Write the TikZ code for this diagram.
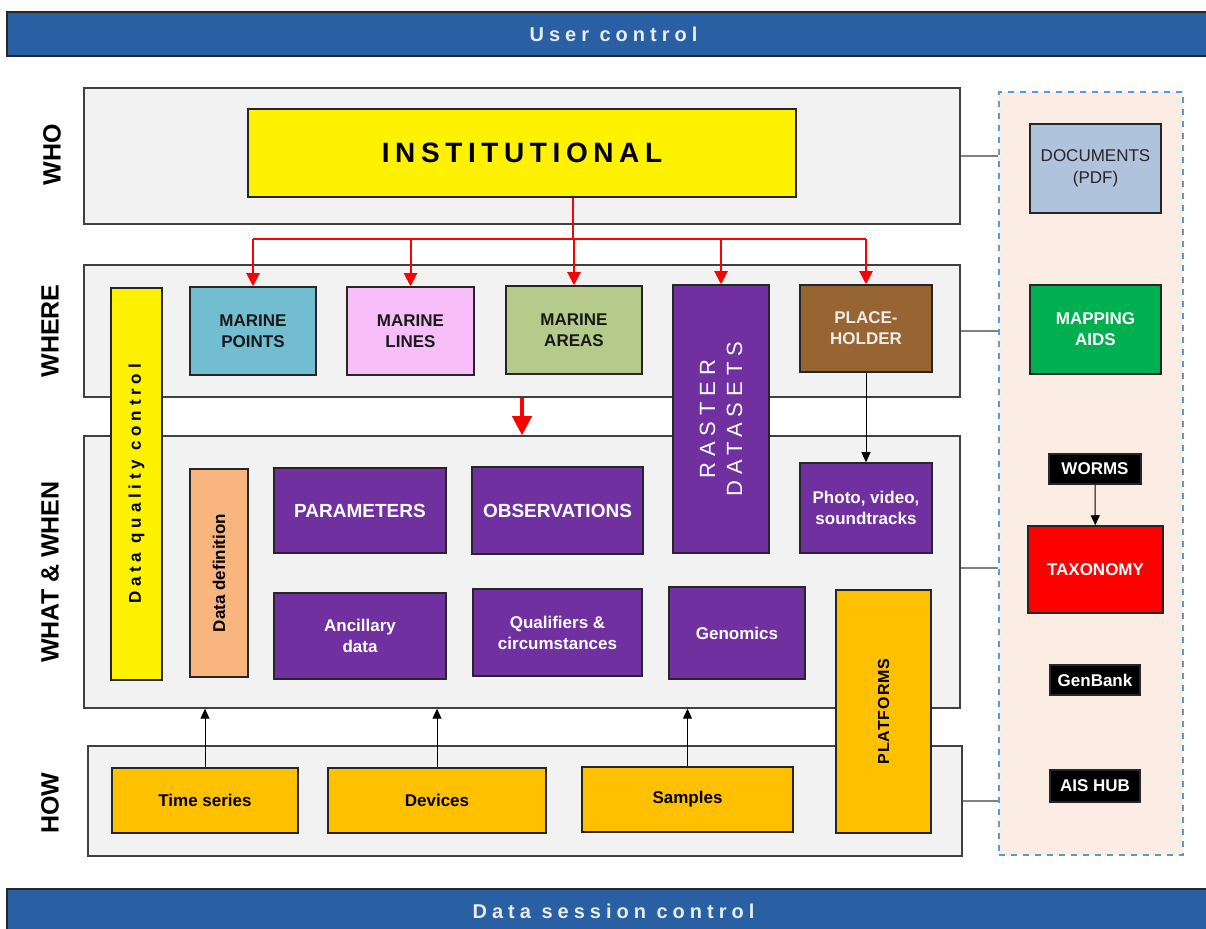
\documentclass[tikz,border=0pt]{standalone}
\usepackage{fontspec}
\setmainfont{Liberation Sans}
\usetikzlibrary{positioning, arrows.meta}
\definecolor{barblue}{RGB}{41, 96, 164}
\definecolor{bartext}{RGB}{232, 236, 244}
\definecolor{panelfill}{RGB}{242, 242, 242}
\definecolor{panelline}{RGB}{64, 64, 64}
\definecolor{boxline}{RGB}{38, 38, 38}
\definecolor{linkgrey}{RGB}{128, 128, 128}
\definecolor{pointblue}{RGB}{114, 190, 208}
\definecolor{linepink}{RGB}{248, 190, 250}
\definecolor{areagreen}{RGB}{182, 202, 139}
\definecolor{rasterpurple}{RGB}{112, 48, 160}
\definecolor{holderbrown}{RGB}{151, 101, 50}
\definecolor{deforange}{RGB}{248, 182, 126}
\definecolor{gold}{RGB}{255, 192, 0}
\definecolor{extfill}{RGB}{252, 237, 228}
\definecolor{extline}{RGB}{91, 155, 213}
\definecolor{docblue}{RGB}{176, 195, 220}
\definecolor{mapgreen}{RGB}{0, 176, 80}
\newcommand{\spaced}[2]{{\addfontfeatures{LetterSpace=#1}#2}}

\begin{document}
\begin{tikzpicture}[x=0.5pt, y=-0.5pt, thick,
  dims/.style 2 args={minimum width=#1*0.5pt, minimum height=#2*0.5pt},
  bar/.style={draw=boxline, fill=barblue, text=bartext, line width=0.75pt, font=\bfseries\fontsize{10}{12}\selectfont},
  panel/.style={draw=panelline, fill=panelfill, line width=0.75pt},
  box/.style={draw=boxline, line width=0.75pt, align=center, inner sep=0pt, font=\bfseries\fontsize{8.5}{10.5}\selectfont},
  purplebox/.style={box, fill=rasterpurple, text=white},
  blackbox/.style={box, fill=black, text=white},
  layer/.style={rotate=90, font=\bfseries\fontsize{12.5}{15}\selectfont},
  link/.style={draw=linkgrey, line width=1pt},
  redarrow/.style={draw=red, line width=1pt, -{Triangle[length=6.5pt, width=6.5pt]}},
  bigred/.style={draw=red, line width=2pt, -{Triangle[length=9.5pt, width=9.5pt]}},
  blackarrow/.style={draw=black, line width=0.5pt, -{Triangle[length=5pt, width=4.5pt]}}]
  \useasboundingbox (0,0) rectangle (1206,929);

  % bars
  \node [bar, dims={1213}{44}] (user) at (613.5,34) {\spaced{25}{User control}};
  \node [bar, dims={1213}{44}] (session) at (613.5,911) {\spaced{25}{Data session control}};

  % layer panels
  \node [panel, dims={876}{136}] (who) at (522,156) {};
  \node [panel, dims={876}{132}] (where) at (522,331) {};
  \node [panel, dims={876}{272}] (ww) at (522,572) {};
  \node [panel, dims={874}{110}] (how) at (525,801) {};
  \node [layer] (wholbl) at (52,155) {WHO};
  \node [layer] (wherelbl) at (50,331) {WHERE};
  \node [layer] (wwlbl) at (50,572) {WHAT \& WHEN};
  \node [layer] (howlbl) at (50,803) {HOW};

  % who
  \node [box, fill=yellow, dims={548}{88}, font=\bfseries\fontsize{14}{16}\selectfont] (inst) at (522,153) {\spaced{20}{INSTITUTIONAL}};

  % where
  \node [box, fill=pointblue, text=black!90, dims={126}{88}] (mpoints) at (253,331) {MARINE\\POINTS};
  \node [box, fill=linepink, text=black!90, dims={127}{88}] (mlines) at (410.5,331) {MARINE\\LINES};
  \node [box, fill=areagreen, text=black!90, dims={136}{88}] (mareas) at (574,330) {MARINE\\AREAS};
  \node [box, fill=holderbrown, text=white!92!black, dims={132}{87}] (holder) at (866,328.5) {PLACE-\\HOLDER};

  % what and when
  \node [box, fill=deforange, dims={208}{58}, rotate=90] (ddef) at (219,573) {Data definition};
  \node [purplebox, dims={172}{85}, font=\bfseries\fontsize{9.5}{11}\selectfont] (params) at (360,510.5) {PARAMETERS};
  \node [purplebox, dims={171}{87}, font=\bfseries\fontsize{9.5}{11}\selectfont] (obs) at (557.5,510.5) {OBSERVATIONS};
  \node [purplebox, dims={132}{90}] (photo) at (866,508) {Photo, video,\\soundtracks};
  \node [purplebox, dims={172}{86}] (ancillary) at (360,636) {Ancillary\\data};
  \node [purplebox, dims={169}{87}] (qualifiers) at (557.5,632.5) {Qualifiers \&\\circumstances};
  \node [purplebox, dims={136}{92}] (genomics) at (737,633) {Genomics};

  % how
  \node [box, fill=gold, dims={186}{65}] (tseries) at (205,800.5) {Time series};
  \node [box, fill=gold, dims={218}{65}] (devices) at (437,800.5) {Devices};
  \node [box, fill=gold, dims={211}{65}] (samples) at (687.5,799.5) {Samples};

  % boxes across layers
  \node [box, fill=yellow, rotate=90, dims={392}{51}] (dqc) at (136.5,484) {\spaced{28}{Data quality control}};
  \node [purplebox, rotate=90, dims={268}{96}, font=\fontsize{11}{13.5}\selectfont] (raster) at (721,419) {\spaced{27}{RASTER}\\\spaced{27}{DATASETS}};
  \node [box, fill=gold, rotate=90, dims={243}{95}, font=\bfseries\fontsize{8}{10}\selectfont] (platforms) at (883.5,711.5) {\spaced{6}{PLATFORMS}};

  % external sources
  \node [draw=extline, fill=extfill, dashed, line width=0.75pt, dims={184}{763}] (ext) at (1091,473.5) {};
  \node [box, fill=docblue, text=black!85, dims={131}{89}, font=\fontsize{8.5}{11}\selectfont] (docs) at (1095.5,168.5) {DOCUMENTS\\(PDF)};
  \node [box, fill=mapgreen, text=white, dims={131}{89}] (maps) at (1095.5,329.5) {MAPPING\\AIDS};
  \node [blackbox, dims={92}{30}] (worms) at (1095,469) {WORMS};
  \node [box, fill=red, text=white, dims={135}{87}] (taxonomy) at (1095.5,569.5) {TAXONOMY};
  \node [blackbox, dims={90}{30}] (genbank) at (1095,680) {GenBank};
  \node [blackbox, dims={90}{32}] (aishub) at (1095,786) {AIS HUB};

  % edges
  \coordinate (split) at (573,239);
  \draw [draw=red, line width=1pt] (inst.south -| split) -- (split);
  \draw [draw=red, line width=1pt] (mpoints.north |- split) -- (holder.north |- split);
  \foreach \a in {mpoints.north, mlines.north, mareas.north, raster.east, holder.north}
    \draw [redarrow] (\a |- split) -- (\a);
  \draw [bigred] (where.south -| 522,0) -- (ww.north -| 522,0);
  \draw [blackarrow] (holder) -- (photo);
  \draw [blackarrow] (worms) -- (taxonomy);
  \foreach \n in {tseries, devices, samples}
    \draw [blackarrow] (\n.north) -- (\n.north |- ww.south);
  \draw [link] (who.east) -- (who.east -| ext.west);
  \draw [link] (where.east) -- (where.east -| ext.west);
  \draw [link] ([yshift=2pt]ww.east) -- ([yshift=2pt]ww.east -| ext.west);
  \draw [link] (how.east) -- (how.east -| ext.west);
\end{tikzpicture}
\end{document}
